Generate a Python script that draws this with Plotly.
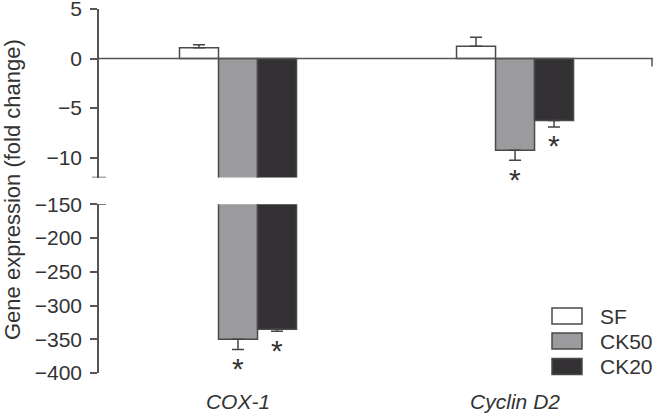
import plotly.graph_objects as go

categories = ["COX-1", "Cyclin D2"]
series_names = ["SF", "CK50", "CK20"]
sf_values = [1.1, 1.25]
sf_errors = [0.3, 0.9]
ck50_values = [-350.0, -9.25]
ck50_errors = [15.0, 1.0]
ck20_values = [-335.0, -6.25]
ck20_errors = [3.0, 0.65]
significant = {"CK50": [True, True], "CK20": [True, True], "SF": [False, False]}
top_ticks = [5, 0, -5, -10]
bottom_ticks = [-150, -200, -250, -300, -350, -400]

colors = {"SF": "#ffffff", "CK50": "#9b9b9d", "CK20": "#333133"}
values = {"SF": sf_values, "CK50": ck50_values, "CK20": ck20_values}
errors = {"SF": sf_errors, "CK50": ck50_errors, "CK20": ck20_errors}

AX = "#555555"
TXT = "#333333"
FONT = "Liberation Sans, Arial, sans-serif"

fig = go.Figure()
xpos = list(range(len(categories)))
for name in series_names:
    vals = values[name]
    errs = errors[name]
    up = [e if v > 0 else 0 for v, e in zip(vals, errs)]
    dn = [e if v < 0 else 0 for v, e in zip(vals, errs)]
    for xa, ya in (("x", "y"), ("x2", "y2")):
        fig.add_trace(go.Bar(
            x=xpos, y=vals, name=name, xaxis=xa, yaxis=ya,
            marker=dict(color=colors[name], line=dict(color="#4a4a4a", width=1.5)),
            error_y=dict(type="data", symmetric=False, array=up, arrayminus=dn,
                         color="#444444", thickness=1.5, width=6),
            showlegend=False,
        ))

PL, PR, PT, PB = 99, 1, 9, 42
W, H = 654, 415
pw = W - PL - PR
ph = H - PT - PB
xrange_ = [-0.5018, 1.498]
bar_w = 0.1408  # bar width in category units (group = 3 bars)

top_dom = [1 - (177.5 - PT) / ph, 1.0]
bot_dom = [0.0, 1 - (204.3 - PT) / ph]

fig.update_layout(
    width=W, height=H,
    margin=dict(l=PL, r=PR, t=PT, b=PB, autoexpand=False),
    paper_bgcolor="white", plot_bgcolor="white",
    barmode="group", bargap=1 - 3 * bar_w, bargroupgap=0,
    font=dict(family=FONT, size=21, color=TXT),
    showlegend=False,
    xaxis=dict(domain=[0, 1], range=xrange_, anchor="y", showticklabels=False,
               showline=False, showgrid=False, zeroline=False, ticks="",
               automargin=False),
    xaxis2=dict(domain=[0, 1], range=xrange_, anchor="y2", matches="x",
                tickmode="array", tickvals=xpos, ticktext=categories,
                tickfont=dict(size=21, color=TXT, style="italic"),
                showline=False, showgrid=False, zeroline=False, ticks="",
                ticklabelstandoff=14, automargin=False, ticklabeloverflow="allow"),
    yaxis=dict(domain=top_dom, range=[-12, 5], anchor="x",
               tickmode="array", tickvals=top_ticks,
               ticktext=[str(t).replace("-", "\u2212") for t in top_ticks],
               showline=True, linecolor=AX, linewidth=1.5,
               ticks="outside", ticklen=7, tickwidth=1.5, tickcolor=AX,
               showgrid=False, zeroline=False, ticklabelstandoff=4,
               automargin=False, ticklabeloverflow="allow"),
    yaxis2=dict(domain=bot_dom, range=[-400, -150], anchor="x2",
                tickmode="array", tickvals=bottom_ticks,
                ticktext=[str(t).replace("-", "\u2212") for t in bottom_ticks],
                showline=True, linecolor=AX, linewidth=1.5,
                ticks="outside", ticklen=7, tickwidth=1.5, tickcolor=AX,
                showgrid=False, zeroline=False, ticklabelstandoff=4,
                automargin=False, ticklabeloverflow="allow"),
)

# zero line across the top panel with small end tick
fig.add_shape(type="line", xref="paper", yref="y", x0=0, x1=1, y0=0, y1=0,
              line=dict(color=AX, width=1.5), layer="above")
fig.add_shape(type="line", xref="paper", yref="y", x0=1 - 1 / pw, x1=1 - 1 / pw,
              y0=0, y1=-0.8, line=dict(color=AX, width=1.5))
# axis break caps
fig.add_shape(type="line", xref="paper", yref="y", x0=-7 / pw, x1=7 / pw,
              y0=-12, y1=-12, line=dict(color=AX, width=1.5))
fig.add_shape(type="line", xref="paper", yref="y2", x0=0, x1=7 / pw,
              y0=-150, y1=-150, line=dict(color=AX, width=1.5))

# significance asterisks
offsets = {"SF": -bar_w, "CK50": 0.0, "CK20": bar_w}
for name in series_names:
    for i, sig in enumerate(significant[name]):
        if not sig:
            continue
        v = values[name][i] - errors[name][i]
        yref = "y" if v > -12 else "y2"
        fig.add_annotation(x=i + offsets[name], y=v, xref="x", yref=yref,
                           text="*", showarrow=False, yanchor="middle",
                           yshift=-19, font=dict(size=30, color=TXT))

# y title
fig.add_annotation(text="Gene expression (fold change)", xref="paper", yref="paper",
                   x=-(PL - 12) / pw, y=1 - (190 - PT) / ph, textangle=-90,
                   showarrow=False, xanchor="center", yanchor="middle",
                   font=dict(size=22, color=TXT))

# legend (manual)
leg_y = [316, 341, 366.5]
for name, cy in zip(series_names, leg_y):
    x0 = (552 - PL) / pw
    x1 = (582 - PL) / pw
    y0 = 1 - (cy - 8 - PT) / ph
    y1 = 1 - (cy + 8 - PT) / ph
    fig.add_shape(type="rect", xref="paper", yref="paper", x0=x0, x1=x1, y0=y1, y1=y0,
                  fillcolor=colors[name], line=dict(color="#4a4a4a", width=1.5))
    fig.add_annotation(text=name, xref="paper", yref="paper",
                       x=(598 - PL) / pw, y=1 - (cy - PT) / ph,
                       xanchor="left", yanchor="middle", showarrow=False,
                       font=dict(size=21, color=TXT))

fig.write_html("out.html", config={"displayModeBar": False},
               post_script="document.body.style.margin='0';document.body.style.overflow='hidden';")
